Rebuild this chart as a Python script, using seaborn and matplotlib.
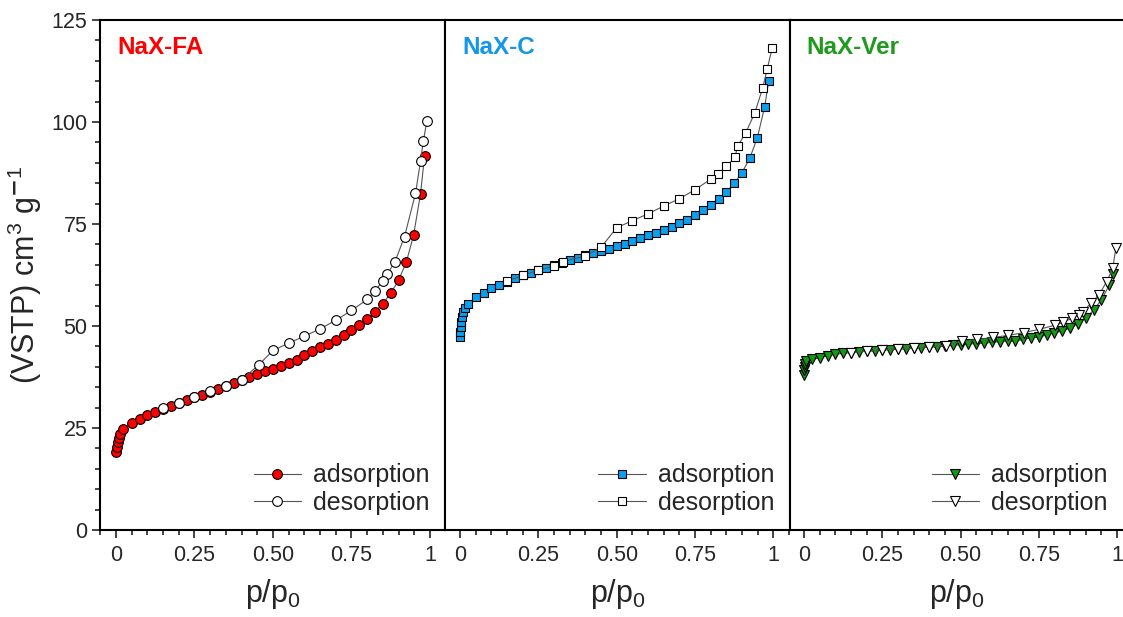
import matplotlib
matplotlib.use("Agg")
import matplotlib.pyplot as plt
from matplotlib.ticker import MultipleLocator, FixedLocator
import seaborn as sns

# NaX-FA
fa_ads_p = [0.001, 0.003, 0.005, 0.008, 0.012, 0.023, 0.05, 0.075, 0.1, 0.125, 0.15, 0.175, 0.2, 0.225,
            0.25, 0.275, 0.3, 0.325, 0.35, 0.375, 0.4, 0.425, 0.45, 0.475, 0.5, 0.525, 0.55, 0.575,
            0.6, 0.625, 0.65, 0.675, 0.7, 0.725, 0.75, 0.775, 0.8, 0.825, 0.85, 0.875, 0.9, 0.925,
            0.948, 0.97, 0.983]
fa_ads_v = [19.2, 20.4, 21.5, 22.5, 23.5, 24.8, 26.2, 27.2, 28.2, 28.9, 29.6, 30.4, 31.1, 31.8,
            32.5, 33.2, 33.9, 34.6, 35.3, 36.0, 36.7, 37.4, 38.2, 38.9, 39.5, 40.2, 40.9, 41.7,
            42.8, 43.9, 44.8, 45.7, 46.6, 47.7, 49.0, 50.2, 51.8, 53.5, 55.5, 58.0, 61.2, 65.7,
            72.3, 82.4, 91.7]
fa_des_p = [0.99, 0.979, 0.97, 0.954, 0.919, 0.889, 0.864, 0.85, 0.824, 0.8, 0.75, 0.7, 0.65,
            0.6, 0.55, 0.5, 0.455, 0.4, 0.35, 0.3, 0.25, 0.2, 0.15]
fa_des_v = [100.2, 95.3, 90.4, 82.5, 71.9, 65.8, 62.7, 61.0, 58.6, 56.5, 53.8, 51.4, 49.3,
            47.5, 45.8, 44.0, 40.5, 36.8, 35.4, 34.0, 32.6, 31.1, 29.8]

# NaX-C
c_ads_p = [0.0005, 0.001, 0.002, 0.003, 0.005, 0.008, 0.015, 0.024, 0.05, 0.075, 0.1, 0.125, 0.15,
           0.175, 0.2, 0.225, 0.25, 0.275, 0.3, 0.325, 0.35, 0.375, 0.4, 0.425, 0.45, 0.475, 0.5,
           0.525, 0.55, 0.575, 0.6, 0.625, 0.65, 0.675, 0.7, 0.725, 0.75, 0.775, 0.8, 0.825, 0.85,
           0.875, 0.9, 0.925, 0.949, 0.972, 0.985]
c_ads_v = [47.4, 48.6, 49.8, 51.1, 52.3, 53.5, 54.3, 55.3, 57.0, 58.2, 59.3, 60.1, 60.9,
           61.7, 62.4, 63.1, 63.7, 64.2, 64.9, 65.5, 66.2, 66.7, 67.3, 67.8, 68.4, 68.9, 69.6,
           70.2, 70.8, 71.5, 72.2, 72.9, 73.5, 74.3, 75.3, 76.1, 77.2, 78.4, 79.6, 81.1, 82.8,
           85.0, 87.6, 91.2, 96.2, 103.7, 110.0]
c_des_p = [0.996, 0.98, 0.966, 0.941, 0.912, 0.886, 0.877, 0.85, 0.824, 0.8, 0.75, 0.7, 0.65,
           0.6, 0.55, 0.5, 0.45, 0.4, 0.33, 0.3, 0.25, 0.2, 0.15]
c_des_v = [118.1, 112.9, 108.4, 102.3, 97.4, 94.1, 91.3, 89.1, 87.3, 86.0, 83.4, 81.2, 79.4,
           77.5, 75.8, 74.1, 69.3, 67.2, 65.8, 64.7, 63.7, 62.4, 61.0]

# NaX-Ver
v_ads_p = [0.0005, 0.001, 0.002, 0.003, 0.006, 0.025, 0.05, 0.075, 0.1, 0.125, 0.15, 0.175, 0.2,
           0.225, 0.25, 0.275, 0.3, 0.325, 0.35, 0.375, 0.4, 0.425, 0.45, 0.475, 0.5, 0.525, 0.55,
           0.575, 0.6, 0.625, 0.65, 0.675, 0.7, 0.725, 0.75, 0.775, 0.8, 0.825, 0.85, 0.875, 0.9,
           0.925, 0.95, 0.975, 0.988]
v_ads_v = [38.0, 39.2, 40.0, 40.8, 41.4, 41.8, 42.2, 42.7, 43.1, 43.3, 43.5, 43.7, 43.8,
           43.9, 44.1, 44.2, 44.3, 44.4, 44.6, 44.7, 44.8, 44.9, 45.1, 45.3, 45.4, 45.6, 45.7,
           45.8, 46.0, 46.2, 46.3, 46.3, 46.7, 47.1, 47.3, 47.8, 48.3, 48.8, 49.5, 50.6, 51.9,
           53.9, 56.4, 60.0, 62.8]
v_des_p = [0.996, 0.986, 0.967, 0.942, 0.917, 0.89, 0.877, 0.855, 0.828, 0.802, 0.752, 0.703,
           0.653, 0.603, 0.553, 0.504, 0.453, 0.4, 0.35, 0.3, 0.25, 0.2, 0.15]
v_des_v = [69.0, 64.1, 60.9, 57.6, 55.6, 53.5, 52.6, 51.9, 50.9, 50.2, 49.2, 48.4,
           47.7, 47.2, 46.7, 46.3, 45.2, 44.9, 44.6, 44.4, 44.2, 43.8, 43.5]

panels = [
    ("NaX-FA", "#ff0000", "o", 7, fa_ads_p, fa_ads_v, fa_des_p, fa_des_v),
    ("NaX-C", "#1596e8", "s", 6, c_ads_p, c_ads_v, c_des_p, c_des_v),
    ("NaX-Ver", "#1f9a1f", "v", 7.5, v_ads_p, v_ads_v, v_des_p, v_des_v),
]
marker_fill = ["#ff0000", "#0aa0f0", "#139a13"]

sns.set_style("ticks")
plt.rcParams["font.family"] = ["Liberation Sans", "DejaVu Sans"]
plt.rcParams["mathtext.fontset"] = "custom"
plt.rcParams["mathtext.rm"] = "Liberation Sans"
plt.rcParams["mathtext.it"] = "Liberation Sans:italic"

fig = plt.figure(figsize=(11.23, 6.17), dpi=100)
W, H = 1123, 617
bounds = [(100, 445), (445, 790), (790, 1123)]
xlims = [(-0.051, 1.048), (-0.048, 1.053), (-0.045, 1.019)]

for i, (name, tcol, mk, ms, ap, av, dp, dv) in enumerate(panels):
    x0, x1 = bounds[i]
    ax = fig.add_axes([x0 / W, 1 - 530 / H, (x1 - x0) / W, 510 / H])
    sns.lineplot(x=ap, y=av, ax=ax, sort=False, color="#555555", lw=0.8,
                 marker=mk, markersize=ms, markerfacecolor=marker_fill[i],
                 markeredgecolor="black", markeredgewidth=0.8, label="adsorption")
    sns.lineplot(x=dp, y=dv, ax=ax, sort=False, color="#555555", lw=0.8,
                 marker=mk, markersize=ms, markerfacecolor="white",
                 markeredgecolor="black", markeredgewidth=0.8, label="desorption")
    ax.set_xlim(*xlims[i])
    ax.set_ylim(0, 125)
    ax.xaxis.set_major_locator(FixedLocator([0, 0.25, 0.5, 0.75, 1]))
    ax.set_xticklabels(["0", "0.25", "0.50", "0.75", "1"])
    ax.xaxis.set_minor_locator(MultipleLocator(0.05))
    ax.tick_params(axis="x", which="major", direction="out", length=6, width=1.2,
                   labelsize=15.5, pad=5, top=False)
    ax.tick_params(axis="x", which="minor", direction="out", length=3.5, width=1.2, top=False)
    ax.set_xlabel("p/p$_0$", fontsize=22, labelpad=8)
    for s in ax.spines.values():
        s.set_linewidth(1.5)
        s.set_color("black")
    if i == 0:
        ax.yaxis.set_major_locator(MultipleLocator(25))
        ax.yaxis.set_minor_locator(MultipleLocator(5))
        ax.tick_params(axis="y", which="major", direction="out", length=6, width=1.2,
                       labelsize=15.5, pad=3, right=False)
        ax.tick_params(axis="y", which="minor", direction="out", length=3.5, width=1.2, right=False)
        ax.set_ylabel("(VSTP) cm$^{3}$ g$^{\\mathbf{-}1}$", fontsize=22, labelpad=5)
    else:
        ax.set_yticks([])
        ax.set_ylabel("")
    if i == 2:
        ax.spines["right"].set_visible(False)
    ax.text(0.05, 0.947, name, transform=ax.transAxes, color=tcol, fontsize=17.5,
            fontweight="bold", va="center", ha="left")
    ax.legend(loc="lower right", frameon=False, fontsize=18, handlelength=1.9,
              handletextpad=0.5, labelspacing=0.15, borderaxespad=0.2)

fig.savefig("out.png", dpi=100)
